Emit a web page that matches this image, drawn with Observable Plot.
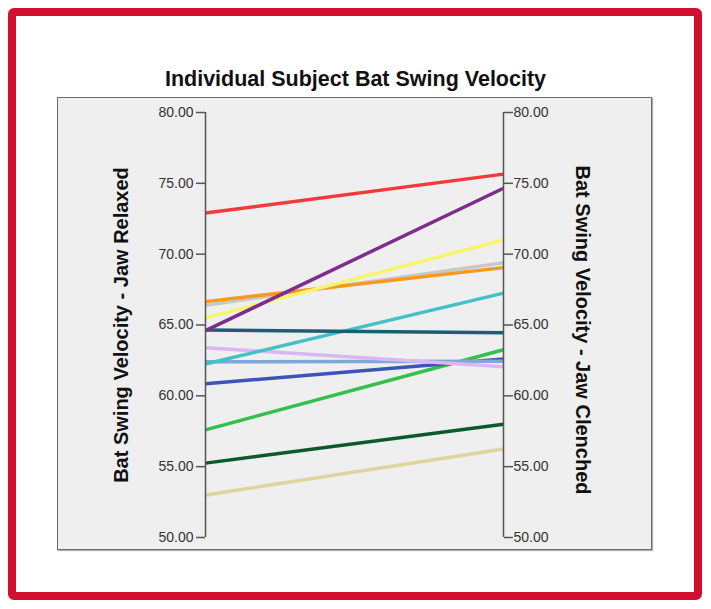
<!DOCTYPE html>
<html>
<head>
<meta charset="utf-8">
<script src="https://cdn.jsdelivr.net/npm/d3@7"></script>
<script src="https://cdn.jsdelivr.net/npm/@observablehq/plot@0.6"></script>
<style>
  html, body { margin: 0; padding: 0; background: #ffffff; }
  #wrap { position: relative; width: 711px; height: 609px; font-family: "Liberation Sans", Arial, sans-serif; overflow: hidden; }
  #border { position: absolute; left: 8px; top: 8px; width: 694px; height: 592px; box-sizing: border-box; border: 8px solid #d0102e; border-radius: 6px; }
  #panel { position: absolute; left: 57px; top: 97px; width: 595px; height: 453px; box-sizing: border-box; background: #efefef; border: 1.5px solid #6a6a6a; box-shadow: 1px 1px 1px #b0b0b0; }
  #title { position: absolute; left: 0; width: 711px; top: 67px; text-align: center; font-size: 21.5px; font-weight: bold; color: #111; }
  #chart { position: absolute; left: 0; top: 0; }
</style>
</head>
<body>
<div id="wrap">
  <div id="border"></div>
  <div id="panel"></div>
  <div id="title">Individual Subject Bat Swing Velocity</div>
  <div id="chart"></div>
</div>
<script>
// Data (drawing order: bottom to top)
const subjects = ["S13", "S12", "S11", "S10", "S9", "S8", "S7", "S6", "S5", "S4", "S3", "S2", "S1"];
const relaxed  = [53.0, 55.25, 57.6, 60.85, 62.4, 63.4, 62.25, 64.65, 66.4, 66.65, 65.5, 64.6, 72.9];
const clenched = [56.25, 58.0, 63.25, 62.6, 62.45, 62.05, 67.25, 64.45, 69.4, 69.05, 71.0, 74.65, 75.65];
const lineColors = ["#ddd59c", "#0b5a2c", "#33c04d", "#3b55b5", "#7fa7d9", "#d9b8f2", "#44c1c6", "#1d5e75", "#c8c8c8", "#f8981d", "#f8f56b", "#7e2d8c", "#f23a3a"];
const yTicks = [50, 55, 60, 65, 70, 75, 80];
const leftLabel = "Bat Swing Velocity - Jaw Relaxed";
const rightLabel = "Bat Swing Velocity - Jaw Clenched";

const rows = subjects.map((s, i) => ({subject: s, relaxed: relaxed[i], clenched: clenched[i], color: lineColors[i]}));
const fmt = d3.format(".2f");

const chart = Plot.plot({
  width: 711,
  height: 609,
  marginLeft: 205,
  marginRight: 208,
  marginTop: 112,
  marginBottom: 72,
  style: {background: "transparent", fontFamily: "'Liberation Sans', Arial, sans-serif", overflow: "visible"},
  x: {domain: [0, 1], axis: null},
  y: {domain: [50, 80], axis: null},
  marks: [
    Plot.link(rows, {x1: () => 0, x2: () => 1, y1: "relaxed", y2: "clenched", stroke: "color", strokeWidth: 3.5, strokeLinecap: "butt"}),
    Plot.ruleX([0, 1], {y1: 50, y2: 80, stroke: "#555", strokeWidth: 1.5}),
    Plot.axisY({anchor: "left", ticks: yTicks, tickFormat: fmt, tickSize: 9, tickPadding: 3, fontSize: 14, color: "#333", stroke: "#555", strokeWidth: 1.5, label: null}),
    Plot.axisY({anchor: "right", ticks: yTicks, tickFormat: fmt, tickSize: 9, tickPadding: 1, fontSize: 14, color: "#333", stroke: "#555", strokeWidth: 1.5, label: null}),
    Plot.text([leftLabel], {text: d => d, frameAnchor: "left", textAnchor: "middle", lineAnchor: "middle", dx: -84, rotate: -90, fontSize: 20, fontWeight: "bold", fill: "#111"}),
    Plot.text([rightLabel], {text: d => d, frameAnchor: "right", textAnchor: "middle", lineAnchor: "middle", dx: 79, dy: 5, rotate: 90, fontSize: 20, fontWeight: "bold", fill: "#111"})
  ]
});
document.getElementById("chart").appendChild(chart);
</script>
</body>
</html>
